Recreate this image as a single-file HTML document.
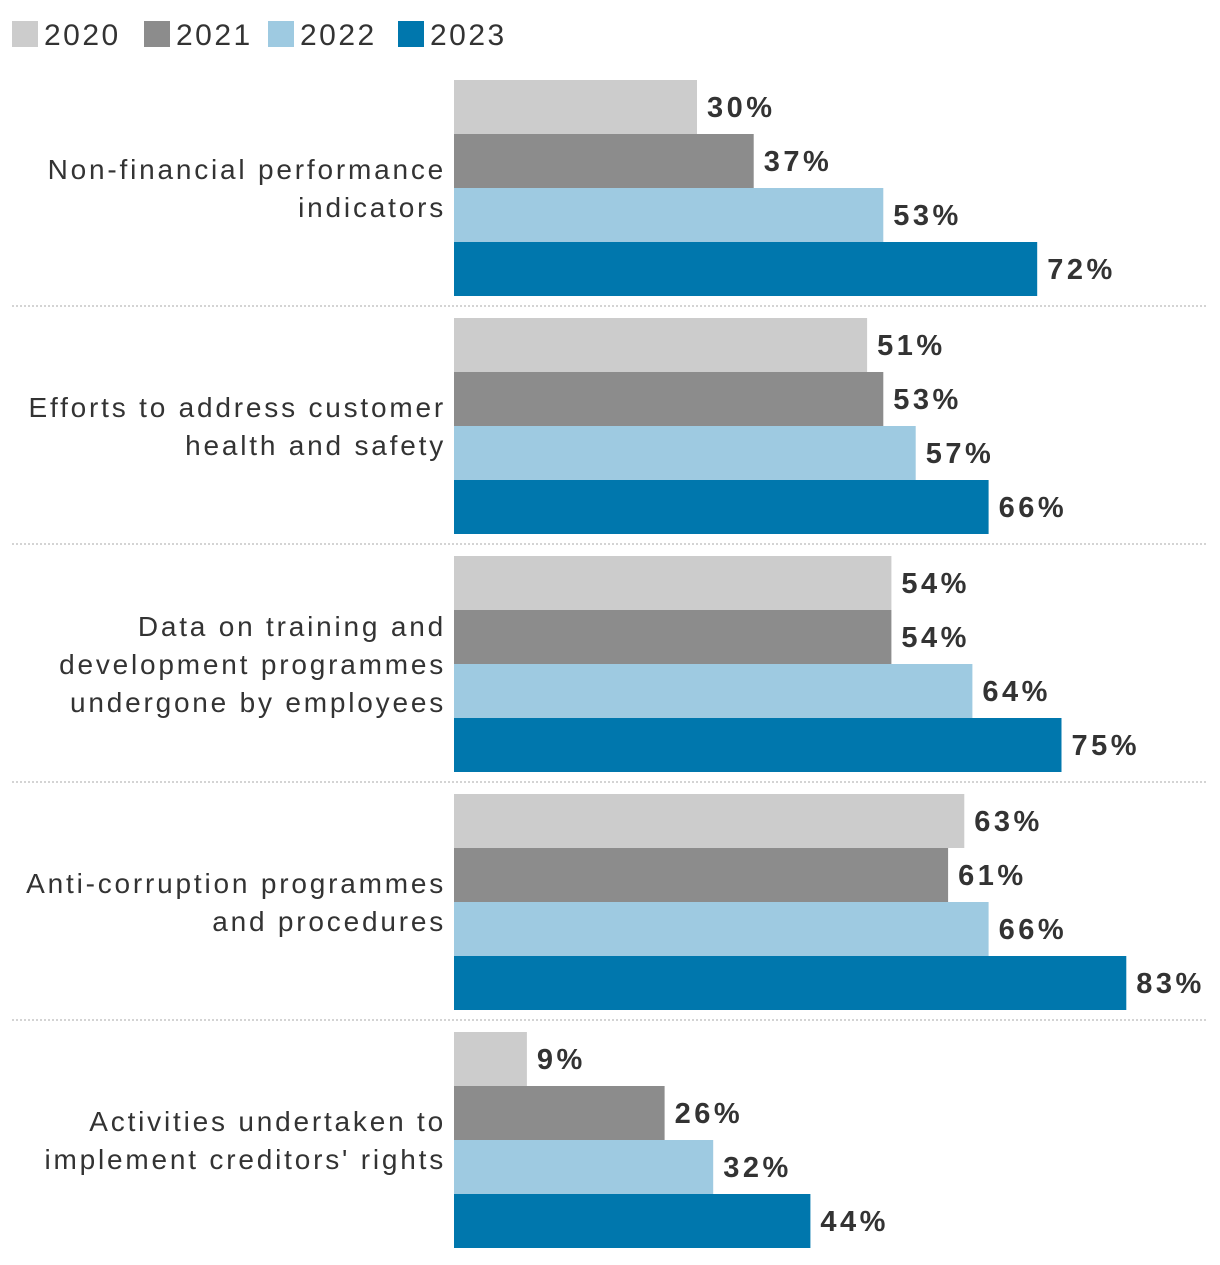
<!DOCTYPE html>
<html><head><meta charset="utf-8"><style>
body{margin:0;background:#fff;font-family:"Liberation Sans",sans-serif;}
svg text{font-family:"Liberation Sans",sans-serif;}
</style></head><body>
<svg id="chart" width="1220" height="1260" xmlns="http://www.w3.org/2000/svg"></svg>
<script>
const categories=[["Non-financial performance","indicators"],["Efforts to address customer","health and safety"],["Data on training and","development programmes","undergone by employees"],["Anti-corruption programmes","and procedures"],["Activities undertaken to","implement creditors' rights"]];
const years=["2020","2021","2022","2023"];
const v2020=[30,51,54,63,9];
const v2021=[37,53,54,61,26];
const v2022=[53,57,64,66,32];
const v2023=[72,66,75,83,44];
const series=[v2020,v2021,v2022,v2023];
const colors=["#cccccc","#8c8c8c","#9ecae1","#0077ad"];
const svg=document.getElementById('chart');
const NS="http://www.w3.org/2000/svg";
const x0=454, k=8.1, gTop=80, gStep=238, bh=54;
function xs(v){return x0+v*k;}
function mk(t,a){const e=document.createElementNS(NS,t);for(const n in a)e.setAttribute(n,a[n]);svg.appendChild(e);return e;}
const lx=[12,144,268,398];
years.forEach((y,i)=>{
 const r=mk('rect',{x:lx[i],y:21,width:26,height:26,fill:colors[i]});
 
 
 const t=mk('text',{x:lx[i]+32,y:45,'font-size':30,fill:'#333','letter-spacing':2.5});t.textContent=y;
 
 
});
categories.forEach((lines,c)=>{
 const top=gTop+c*gStep;
 if(c>0){const l=mk('line',{x1:12,x2:1208,y1:top-12,y2:top-12,stroke:'#bbb','stroke-width':1.2,'stroke-dasharray':'2,2'});
  
  }
 const mid=top+bh*2, lh=38, start=mid-(lines.length-1)*lh/2+10;
 lines.forEach((s,j)=>{const t=mk('text',{x:446,y:start+j*lh,'text-anchor':'end','font-size':28,fill:'#333','letter-spacing':2.8});t.textContent=s;
  
  });
 series.forEach((arr,i)=>{
  const y=top+i*bh, v=arr[c];
  const r=mk('rect',{x:x0,y:y,width:xs(v)-x0,height:bh,fill:colors[i]});
  
  
  const t=mk('text',{x:xs(v)+10,y:y+37,'font-size':29,'font-weight':'bold',fill:'#333','letter-spacing':3.5});t.textContent=v+'%';
  
  
 });
});
</script>
</body></html>
